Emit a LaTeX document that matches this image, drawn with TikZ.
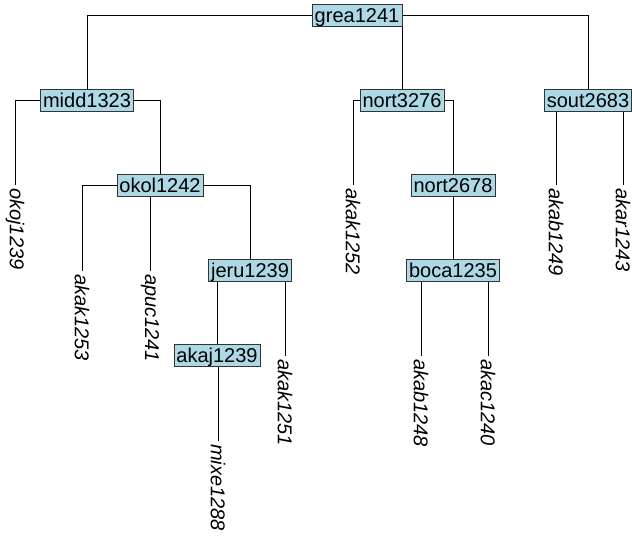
\documentclass[tikz,border=0pt]{standalone}
\usepackage{fontspec}
\setmainfont{Liberation Sans}
\usepackage{xcolor}
\usetikzlibrary{backgrounds}
\definecolor{boxblue}{HTML}{ADD8E6}

\tikzset{
  clade/.style={draw=black!80, fill=boxblue, inner xsep=2.5pt, inner ysep=3pt,
    text height=15pt, text depth=1pt, font=\fontsize{20}{24}\selectfont},
  leaf/.style={rotate=-90, anchor=west, inner sep=3pt, font=\fontsize{20}{24}\selectfont\itshape},
  branch/.style={black!85, line width=0.8pt}
}

\begin{document}
\begin{tikzpicture}[x=1pt, y=-1pt]
    \useasboundingbox (0,0) rectangle (632,538);

    % inner nodes
    \node[clade] (grea1241) at (357,15) {grea1241};
    \node[clade] (midd1323) at (87,100) {midd1323};
    \node[clade] (nort3276) at (402,100) {nort3276};
    \node[clade] (sout2683) at (588,100) {sout2683};
    \node[clade] (okol1242) at (160,185) {okol1242};
    \node[clade] (nort2678) at (453,185) {nort2678};
    \node[clade] (jeru1239) at (250,270) {jeru1239};
    \node[clade] (boca1235) at (453,270) {boca1235};
    \node[clade] (akaj1239) at (217,355) {akaj1239};

    % tips
    \foreach \tip/\x/\y in {okoj1239/15/185, akak1253/82/271, apuc1241/150/271,
        mixe1288/218/441, akak1251/285/356, akak1252/353/185, akab1248/421/356,
        akac1240/488/356, akab1249/556/185, akar1243/623/185}
        \node[leaf] (\tip) at (\x,\y) {\tip};

    % branches
    \begin{scope}[on background layer, branch]
        \draw (grea1241) -| (midd1323.north);
        \draw (grea1241) -| (nort3276.north);
        \draw (grea1241) -| (sout2683.north);
        \draw (midd1323) -| (okoj1239.west);
        \draw (midd1323) -| (okol1242.north);
        \draw (okol1242) -| (akak1253.west);
        \draw (okol1242) -| (apuc1241.west);
        \draw (okol1242) -| (jeru1239.north);
        \draw (jeru1239) -| (akaj1239.north);
        \draw (jeru1239) -| (akak1251.west);
        \draw (akaj1239) -| (mixe1288.west);
        \draw (nort3276) -| (akak1252.west);
        \draw (nort3276) -| (nort2678.north);
        \draw (nort2678) -- (boca1235.north);
        \draw (boca1235) -| (akab1248.west);
        \draw (boca1235) -| (akac1240.west);
        \draw (sout2683) -| (akab1249.west);
        \draw (sout2683) -| (akar1243.west);
    \end{scope}
\end{tikzpicture}
\end{document}
